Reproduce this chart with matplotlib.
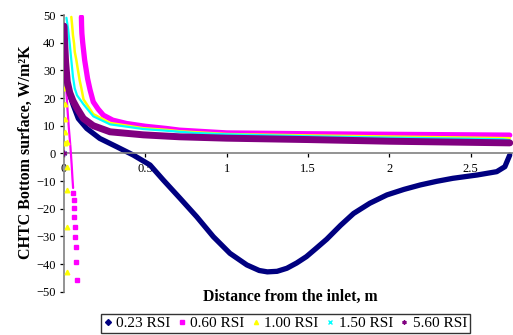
import matplotlib
matplotlib.use("Agg")
import matplotlib.pyplot as plt
from matplotlib.lines import Line2D

# ---- data ----
labels = ["0.23 RSI", "0.60 RSI", "1.00 RSI", "1.50 RSI", "5.60 RSI"]
colors = ["#000080", "#FF00FF", "#FFFF00", "#00FFFF", "#800080"]
markers = ["D", "s", "^", "x", (6, 2, 0)]

x023 = [0.002, 0.006, 0.012, 0.026, 0.057, 0.088, 0.14, 0.22, 0.324, 0.426, 0.529,
        0.61, 0.713, 0.816, 0.918, 1.02, 1.124, 1.2, 1.25, 1.31, 1.37, 1.43, 1.49, 1.55, 1.615,
        1.7, 1.78, 1.88, 1.985, 2.09, 2.19, 2.29, 2.39, 2.54, 2.66, 2.71, 2.74]
y023 = [40, 33, 28, 22.8, 17.4, 12.6, 9.0, 5.4, 2.4, -0.6, -4.2,
        -9.6, -16.2, -22.9, -30.1, -36.1, -40.3, -42.3, -42.8, -42.6, -41.5, -39.6, -37.3, -34.3, -31.0,
        -26.0, -21.7, -18.0, -15.0, -13.0, -11.4, -10.1, -9.0, -7.8, -6.6, -4.8, -0.6]

# 0.60 RSI: left branch (dense), left tail (sparse points), right branch
x060a = [0.002, 0.008, 0.02, 0.03, 0.04, 0.047, 0.052, 0.056]
y060a = [42, 30, 17, 9, 2, -4, -9, -12.5]
x060t = [0.057, 0.06, 0.062, 0.064, 0.066, 0.068, 0.071, 0.073, 0.077]
y060t = [-14.4, -16.9, -19.9, -22.9, -26.5, -30.1, -33.7, -39.1, -45.7]
x060b = [0.107, 0.108, 0.11, 0.115, 0.127, 0.145, 0.16, 0.18, 0.21, 0.242, 0.3,
         0.385, 0.5, 0.63, 0.71, 1.0, 1.5, 2.0, 2.5, 2.74]
y060b = [49.3, 46.3, 43.3, 40.0, 33.7, 27.0, 23.0, 18.6, 16.0, 13.8, 12.0,
         10.8, 9.8, 9.0, 8.4, 7.4, 7.1, 6.9, 6.7, 6.6]

# 1.00 RSI: left branch (sparse points), right branch
x100t = [0.003, 0.004, 0.005, 0.006, 0.006, 0.007, 0.008, 0.009, 0.016, 0.017, 0.018, 0.02, 0.021]
y100t = [38, 33, 28, 23.5, 18, 12.6, 7.8, 3.6, 4.2, -4.8, -13.2, -26.7, -43]
x100 = [0.045, 0.05, 0.055, 0.062, 0.066, 0.076, 0.086, 0.096, 0.107, 0.12, 0.18,
        0.283, 0.488, 0.63, 0.71, 1.0, 1.5, 2.0, 2.5, 2.74]
y100 = [49.3, 46.3, 42.7, 39.7, 36.7, 33.7, 30.0, 26.5, 23.5, 19.5, 14.2,
        11.0, 9.1, 8.5, 8.0, 7.0, 6.5, 6.1, 5.7, 5.5]

x150 = [0.015, 0.025, 0.035, 0.045, 0.055, 0.066, 0.08, 0.119, 0.18, 0.283,
        0.488, 0.63, 0.8, 1.0, 1.5, 2.0, 2.5, 2.7, 2.74]
y150 = [49, 45, 39.7, 33.7, 27.7, 23.5, 21.0, 17.8, 13.4, 10.5,
        8.8, 8.2, 7.4, 6.9, 6.2, 5.7, 5.3, 5.1, 4.8]
x150t = [0.0]
y150t = [0.0]

x560 = [0.0, 0.004, 0.01, 0.02, 0.035, 0.055, 0.078, 0.119, 0.18, 0.283, 0.488,
        0.71, 1.0, 1.5, 2.0, 2.5, 2.74]
y560 = [46, 40, 33, 26, 22, 19, 16.5, 12.6, 10.0, 7.8, 6.7,
        6.0, 5.5, 5.0, 4.4, 4.0, 3.8]
x560t = [0.0]
y560t = [0.0]

xticks = [0, 0.5, 1, 1.5, 2, 2.5]
xtick_labels = ["0", "0.5", "1", "1.5", "2", "2.5"]
yticks = [-50, -40, -30, -20, -10, 0, 10, 20, 30, 40, 50]

# ---- figure ----
plt.rcParams["font.family"] = ["Liberation Serif", "DejaVu Serif"]
fig = plt.figure(figsize=(5.13, 3.35), dpi=100)
ax = fig.add_axes([64 / 513, 1 - 291.8 / 335, 1 - 64 / 513, (291.8 - 15) / 335])

kw = dict(solid_joinstyle="round", solid_capstyle="round")
# 0.23
ax.plot(x023, y023, color=colors[0], lw=3.8, zorder=2, **kw)
# 0.60
ax.plot(x060a, y060a, color=colors[1], lw=1.6, zorder=3, **kw)
ax.plot(x060t, y060t, color=colors[1], lw=0, marker="s", ms=3.3, zorder=3)
ax.plot(x060b, y060b, color=colors[1], lw=3.8, zorder=3, **kw)
# 1.00
ax.plot(x100t, y100t, color=colors[2], lw=0, marker="^", ms=3.3, zorder=4)
ax.plot(x100, y100, color=colors[2], lw=1.8, zorder=4, **kw)
# 1.50
ax.plot(x150, y150, color=colors[3], lw=1.6, zorder=5, **kw)
ax.plot(x150t, y150t, color=colors[3], lw=0, marker="x", ms=3.5, mew=1, zorder=5)
# 5.60
ax.plot(x560, y560, color=colors[4], lw=5.0, zorder=6, **kw)
ax.plot(x560t, y560t, color=colors[4], lw=0, marker=(6, 2, 0), ms=4, mew=1, zorder=6)

ax.set_xlim(0, 2.76)
ax.set_ylim(-50, 50)
ax.set_xticks(xticks)
ax.set_xticklabels(xtick_labels)
ax.set_yticks(yticks)

for s in ["top", "right"]:
    ax.spines[s].set_visible(False)
ax.spines["bottom"].set_position(("data", 0))
for s in ["left", "bottom"]:
    ax.spines[s].set_color("#808080")
    ax.spines[s].set_linewidth(1.2)
ax.tick_params(axis="both", direction="out", length=3, width=0.9, color="black",
               labelsize=9, labelcolor="black")
ax.tick_params(axis="x", pad=4)
ax.tick_params(axis="y", pad=3)

fig.text(0.05, (1 - 152 / 335), "CHTC Bottom surface, W/m\u00b2K", rotation=90,
         ha="center", va="center", fontsize=11.5, fontweight="bold")
fig.text(290 / 513, 1 - 297 / 335, "Distance from the inlet, m", ha="center",
         va="center", fontsize=11.3, fontweight="bold")

handles = [Line2D([], [], color=c, marker=m, linestyle="none", ms=3, mew=1)
           for c, m in zip(colors, markers)]
leg = fig.legend(handles, labels, loc="center", bbox_to_anchor=(285.5 / 513, 1 - 323.5 / 335),
                 ncol=5, fontsize=11, frameon=True, fancybox=False, edgecolor="black",
                 handlelength=0.5, handletextpad=0.3, columnspacing=0.5, borderpad=0.2,
                 borderaxespad=0)
leg.get_frame().set_linewidth(1.0)

fig.savefig("out.png", dpi=100)
